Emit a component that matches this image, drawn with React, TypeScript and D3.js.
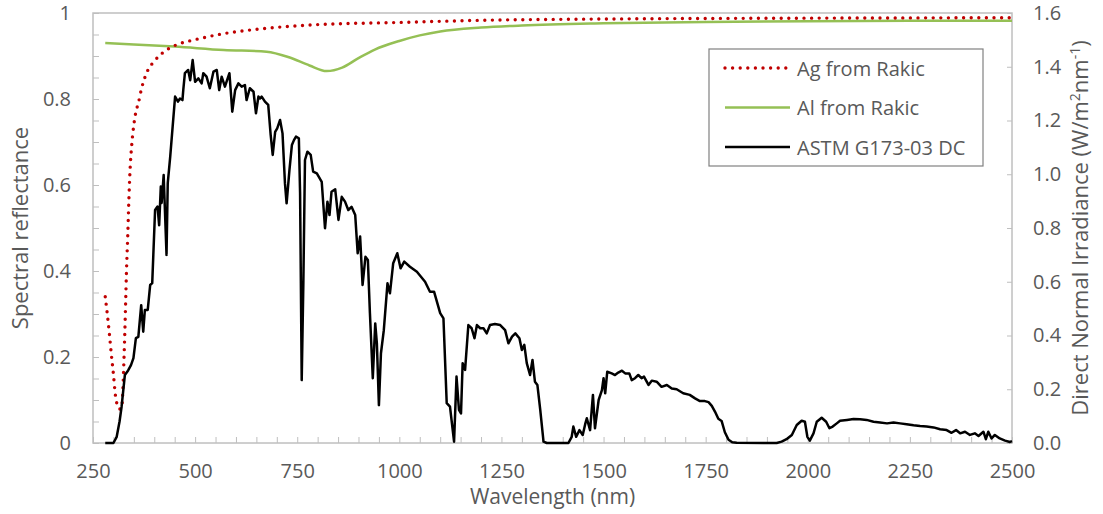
import React, { useEffect, useRef } from 'react';
import * as d3 from 'd3';

// Ag reflectance (Rakic)
const agWavelength = [280, 285, 290, 295, 300, 305, 310, 315, 320, 323, 326, 328, 330, 332, 335, 338, 340, 345, 350, 355, 361, 369, 381, 402, 430, 460, 500, 570, 650, 800, 1000, 1200, 1500, 2000, 2500];
const agReflectance = [0.34, 0.30, 0.255, 0.205, 0.16, 0.11, 0.087, 0.079, 0.08, 0.12, 0.2, 0.26, 0.33, 0.40, 0.48, 0.57, 0.62, 0.695, 0.74, 0.77, 0.79, 0.825, 0.86, 0.89, 0.914, 0.928, 0.938, 0.952, 0.962, 0.973, 0.978, 0.983, 0.986, 0.988, 0.989];

// Al reflectance (Rakic)
const alWavelength = [280, 350, 450, 570, 675, 730, 780, 822, 860, 900, 940, 1000, 1050, 1100, 1200, 1300, 1500, 1750, 2000, 2250, 2500];
const alReflectance = [0.930, 0.927, 0.922, 0.914, 0.910, 0.897, 0.878, 0.865, 0.873, 0.895, 0.915, 0.935, 0.948, 0.957, 0.966, 0.971, 0.976, 0.979, 0.981, 0.982, 0.982];

// ASTM G173-03 direct + circumsolar (W/m2/nm)
const astmWavelength = [280, 300, 308, 315, 320, 328, 336, 343, 349, 355, 361, 368, 373, 377, 384, 390, 395, 402, 408, 412, 416, 418, 423, 430, 433, 439, 445, 451, 458, 463, 469, 471, 475, 483, 488, 494, 500, 508, 516, 520, 528, 536, 545, 553, 559, 565, 573, 584, 591, 598, 606, 614, 622, 626, 634, 643, 649, 655, 659, 663, 671, 679, 685, 690, 696, 701, 708, 714, 720, 724, 731, 737, 742, 747, 754, 757, 761, 765, 769, 775, 783, 789, 798, 810, 818, 824, 829, 834, 843, 851, 859, 867, 875, 883, 892, 898, 904, 910, 917, 923, 928, 935, 941, 945, 950, 955, 962, 971, 977, 985, 995, 1003, 1012, 1026, 1043, 1063, 1075, 1085, 1100, 1108, 1116, 1124, 1134, 1140, 1146, 1151, 1155, 1161, 1169, 1177, 1184, 1190, 1198, 1206, 1214, 1222, 1234, 1247, 1259, 1267, 1276, 1284, 1294, 1300, 1306, 1312, 1320, 1326, 1332, 1338, 1345, 1353, 1361, 1414, 1422, 1426, 1433, 1441, 1449, 1455, 1459, 1467, 1474, 1479, 1488, 1496, 1500, 1504, 1509, 1520, 1528, 1536, 1545, 1553, 1563, 1569, 1577, 1585, 1593, 1599, 1610, 1618, 1630, 1642, 1655, 1667, 1679, 1695, 1711, 1724, 1736, 1748, 1757, 1765, 1773, 1781, 1789, 1797, 1806, 1815, 1826, 1924, 1936, 1948, 1961, 1973, 1985, 1993, 1999, 2005, 2014, 2022, 2034, 2045, 2053, 2061, 2071, 2079, 2096, 2112, 2128, 2144, 2161, 2177, 2194, 2210, 2226, 2242, 2259, 2275, 2291, 2308, 2324, 2340, 2352, 2363, 2373, 2385, 2397, 2409, 2418, 2430, 2436, 2442, 2450, 2458, 2470, 2483, 2495, 2500];
const astmIrradiance = [0, 0, 0.023, 0.08, 0.135, 0.253, 0.27, 0.29, 0.316, 0.39, 0.395, 0.513, 0.414, 0.495, 0.495, 0.588, 0.595, 0.867, 0.88, 0.81, 0.954, 0.893, 0.997, 0.70, 0.967, 1.065, 1.177, 1.289, 1.27, 1.282, 1.276, 1.313, 1.376, 1.388, 1.35, 1.425, 1.344, 1.357, 1.338, 1.376, 1.363, 1.32, 1.382, 1.388, 1.313, 1.363, 1.326, 1.376, 1.233, 1.313, 1.338, 1.326, 1.332, 1.276, 1.32, 1.307, 1.227, 1.289, 1.282, 1.289, 1.27, 1.258, 1.146, 1.072, 1.158, 1.171, 1.202, 1.152, 0.966, 0.892, 1.016, 1.109, 1.127, 1.14, 1.134, 0.929, 0.234, 0.594, 1.053, 1.084, 1.072, 1.01, 1.003, 0.972, 0.799, 0.898, 0.848, 0.935, 0.944, 0.83, 0.916, 0.898, 0.867, 0.879, 0.848, 0.706, 0.768, 0.588, 0.693, 0.681, 0.483, 0.241, 0.445, 0.371, 0.141, 0.334, 0.42, 0.594, 0.557, 0.669, 0.706, 0.65, 0.675, 0.656, 0.637, 0.6, 0.563, 0.563, 0.483, 0.464, 0.148, 0.135, 0.005, 0.247, 0.123, 0.11, 0.297, 0.272, 0.439, 0.427, 0.39, 0.439, 0.427, 0.427, 0.408, 0.439, 0.443, 0.439, 0.42, 0.371, 0.396, 0.408, 0.39, 0.346, 0.365, 0.297, 0.253, 0.309, 0.228, 0.216, 0.123, 0.005, 0, 0, 0.023, 0.061, 0.023, 0.048, 0.03, 0.07, 0.092, 0.048, 0.179, 0.055, 0.16, 0.197, 0.241, 0.185, 0.265, 0.259, 0.253, 0.262, 0.269, 0.259, 0.259, 0.234, 0.241, 0.253, 0.241, 0.247, 0.216, 0.232, 0.228, 0.209, 0.216, 0.203, 0.2, 0.185, 0.179, 0.166, 0.156, 0.156, 0.152, 0.138, 0.116, 0.09, 0.082, 0.04, 0.012, 0.003, 0.001, 0, 0.005, 0.014, 0.03, 0.067, 0.083, 0.079, 0.023, 0.009, 0.036, 0.079, 0.094, 0.079, 0.055, 0.061, 0.073, 0.083, 0.086, 0.089, 0.088, 0.086, 0.079, 0.076, 0.073, 0.076, 0.073, 0.07, 0.066, 0.063, 0.061, 0.058, 0.051, 0.048, 0.038, 0.048, 0.036, 0.042, 0.03, 0.036, 0.026, 0.042, 0.014, 0.042, 0.017, 0.03, 0.017, 0.009, 0.004, 0.007];

const xTickLabels = [250, 500, 750, 1000, 1250, 1500, 1750, 2000, 2250, 2500];
const leftTickLabels = [0, 0.2, 0.4, 0.6, 0.8, 1];
const rightTickLabels = [0, 0.2, 0.4, 0.6, 0.8, 1.0, 1.2, 1.4, 1.6];
const legendLabels = ['Ag from Rakic', 'Al from Rakic', 'ASTM G173-03 DC'];

const FONT = "'Open Sans', sans-serif";
const TEXT = '#595959';
const AXIS = '#bfbfbf';
const RED = '#c00000';
const GREEN = '#95c055';

const App = () => {
  const svgRef = useRef<SVGSVGElement>(null);

  useEffect(() => {
    const svg = d3.select(svgRef.current);
    svg.selectAll('*').remove();

    const dims = { width: 1103, height: 514, left: 93, right: 1012, top: 13, bottom: 443 };

    const x = d3.scaleLinear().domain([250, 2500]).range([dims.left, dims.right]);
    const yL = d3.scaleLinear().domain([0, 1]).range([dims.bottom, dims.top]);
    const yR = d3.scaleLinear().domain([0, 1.6]).range([dims.bottom, dims.top]);

    svg.attr('width', dims.width).attr('height', dims.height);

    // minor ticks every 50 nm / 0.05, labels on the majors only
    const xMinor = d3.range(0, 46).map(i => 250 + i * 50);
    const yMinor = d3.range(0, 21).map(i => i / 20);
    const isLabel = (list: number[], v: number) => list.some(t => Math.abs(t - v) < 1e-6);

    const styleAxis = (g: any) => {
      g.select('.domain').remove();
      g.selectAll('.tick line').attr('stroke', AXIS).attr('stroke-width', 1);
      g.selectAll('.tick text')
        .attr('fill', TEXT)
        .style('font-family', FONT)
        .style('font-size', '20px');
    };

    svg.append('g')
      .attr('transform', `translate(0,${dims.bottom})`)
      .call(d3.axisBottom(x).tickValues(xMinor).tickSizeInner(-6).tickSizeOuter(0).tickPadding(21)
        .tickFormat((d: any) => (isLabel(xTickLabels, d) ? String(d) : '')))
      .call(styleAxis);

    svg.append('g')
      .attr('transform', `translate(${dims.left},0)`)
      .call(d3.axisLeft(yL).tickValues(yMinor).tickSizeInner(-6).tickSizeOuter(0).tickPadding(22)
        .tickFormat((d: any) => (isLabel(leftTickLabels, d) ? d3.format('~g')(d) : '')))
      .call(styleAxis);

    svg.append('g')
      .attr('transform', `translate(${dims.right},0)`)
      .call(d3.axisRight(yR).tickValues(rightTickLabels).tickSizeInner(-5).tickSizeOuter(0).tickPadding(21)
        .tickFormat((d: any) => d3.format('.1f')(d)))
      .call(styleAxis);

    // plot area border
    svg.append('rect')
      .attr('x', dims.left).attr('y', dims.top)
      .attr('width', dims.right - dims.left).attr('height', dims.bottom - dims.top)
      .attr('fill', 'none').attr('stroke', AXIS).attr('stroke-width', 1.5);

    const alLine = d3.line<number>()
      .x((d, i) => x(alWavelength[i]))
      .y(d => yL(d))
      .curve(d3.curveMonotoneX);
    const agLine = d3.line<number>()
      .x((d, i) => x(agWavelength[i]))
      .y(d => yL(d))
      .curve(d3.curveMonotoneX);
    const astmLine = d3.line<number>()
      .x((d, i) => x(astmWavelength[i]))
      .y(d => yR(d));

    svg.append('path')
      .attr('d', alLine(alReflectance))
      .attr('fill', 'none').attr('stroke', GREEN).attr('stroke-width', 2.5);

    svg.append('path')
      .attr('d', agLine(agReflectance))
      .attr('fill', 'none').attr('stroke', RED).attr('stroke-width', 3.4)
      .attr('stroke-linecap', 'round').attr('stroke-dasharray', '0 7.6');

    svg.append('path')
      .attr('d', astmLine(astmIrradiance))
      .attr('fill', 'none').attr('stroke', '#000').attr('stroke-width', 2.5)
      .attr('stroke-linejoin', 'round');

    // axis titles
    svg.append('text')
      .attr('transform', `translate(19,${(dims.top + dims.bottom) / 2}) rotate(-90)`)
      .attr('text-anchor', 'middle').attr('dominant-baseline', 'central')
      .attr('fill', TEXT).style('font-family', FONT).style('font-size', '22px')
      .text('Spectral reflectance');

    svg.append('text')
      .attr('x', (dims.left + dims.right) / 2).attr('y', 504)
      .attr('text-anchor', 'middle')
      .attr('fill', TEXT).style('font-family', FONT).style('font-size', '21px')
      .text('Wavelength (nm)');

    const rt = svg.append('text')
      .attr('transform', `translate(1088,${(dims.top + dims.bottom) / 2}) rotate(-90)`)
      .attr('text-anchor', 'middle')
      .attr('fill', TEXT).style('font-family', FONT).style('font-size', '22px');
    rt.append('tspan').text('Direct Normal Irradiance (W/m');
    rt.append('tspan').attr('dy', -8).style('font-size', '14px').text('2');
    rt.append('tspan').attr('dy', 8).text('nm');
    rt.append('tspan').attr('dy', -8).style('font-size', '14px').text('-1');
    rt.append('tspan').attr('dy', 8).text(')');

    // legend
    const legend = svg.append('g');
    legend.append('rect')
      .attr('x', 709).attr('y', 49).attr('width', 274).attr('height', 117)
      .attr('fill', '#fff').attr('stroke', '#808080').attr('stroke-width', 1.2);

    const legendStyles = [
      { stroke: RED, width: 3.4, dash: '0 7.6' },
      { stroke: GREEN, width: 2.5, dash: null },
      { stroke: '#000', width: 2.5, dash: null },
    ];
    const rowY = d3.scalePoint<string>().domain(legendLabels).range([68, 147]);

    legendLabels.forEach((label, i) => {
      const yy = rowY(label) as number;
      const s = legendStyles[i];
      legend.append('line')
        .attr('x1', 725).attr('x2', 790).attr('y1', yy).attr('y2', yy)
        .attr('stroke', s.stroke).attr('stroke-width', s.width)
        .attr('stroke-linecap', s.dash ? 'round' : 'butt')
        .attr('stroke-dasharray', s.dash);
      legend.append('text')
        .attr('x', 797).attr('y', yy)
        .attr('dominant-baseline', 'central')
        .attr('fill', TEXT).style('font-family', FONT).style('font-size', '20px')
        .text(label);
    });
  }, []);

  return (
    <svg ref={svgRef} style={{ position: 'absolute', left: 0, top: 0, background: '#fff' }}></svg>
  );
};

export default App;
